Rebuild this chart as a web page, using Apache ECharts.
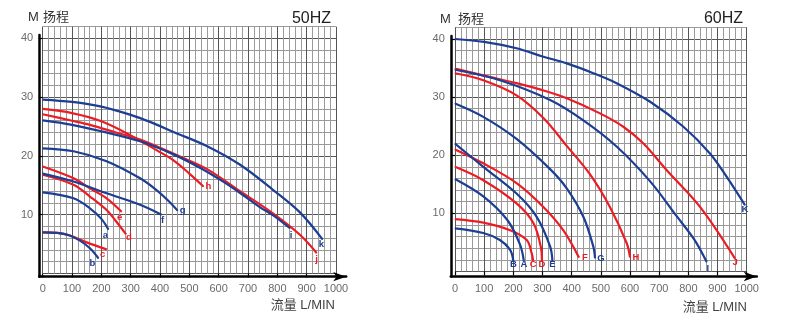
<!DOCTYPE html>
<html><head><meta charset="utf-8">
<script src="https://cdn.jsdelivr.net/npm/echarts@6/dist/echarts.min.js"></script>
<style>html,body{margin:0;padding:0;background:#fff}#c{width:790px;height:326px}</style>
</head><body><div id="c"></div>
<script>
// ---------- tick labels ----------
const flowTicks = [0,100,200,300,400,500,600,700,800,900,1000];
const headTicks = [10,20,30,40];

// ---------- 50HZ curves: [flow L/MIN, head M] ----------
const c50_a = [[0,13.8],[105,12.8],[161,11.1],[200,9.3],[224,7.5]];
const c50_b = [[0,7.0],[50,6.9],[90,6.5],[127,5.6],[161,4.3],[190,2.6]];
const c50_c = [[0,7.0],[50,6.9],[90,6.5],[150,5.3],[218,4.1]];
const c50_d = [[0,16.8],[105,15.1],[161,13.1],[218,10.8],[250,8.9],[284,6.7]];
const c50_e = [[0,18.2],[105,16.2],[161,14.5],[218,12.8],[269,10.5]];
const c50_f = [[0,17.0],[105,15.65],[218,13.65],[332,11.7],[405,10.0]];
const c50_g = [[0,21.3],[105,20.8],[218,19.1],[332,16.2],[388,14.2],[430,12.3],[460,10.7]];
const c50_h = [[0,28.0],[100,27.3],[200,25.9],[300,23.5],[388,21.0],[445,19.3],[500,17.0],[548,14.8]];
const c50_i = [[0,26.05],[100,25.3],[200,24.2],[332,22.5],[440,20.4],[536,18.0],[610,15.8],[673,13.7],[740,11.3],[786,9.9],[843,7.7]];
const c50_j = [[0,27.1],[100,26.0],[161,25.3],[250,24.0],[332,22.8],[468,19.9],[559,17.8],[673,14.0],[786,10.2],[877,6.6],[934,3.5]];
const c50_k = [[0,29.6],[100,29.2],[200,28.4],[300,27.0],[366,25.8],[450,24.0],[559,21.7],[673,18.5],[786,14.2],[877,10.4],[954,5.8]];

// ---------- 60HZ curves ----------
const c60_A = [[0,15.9],[97,12.9],[180,8.8],[223,4.6],[236,1.8]];
const c60_B = [[0,7.4],[97,6.6],[154,5.4],[189,3.7],[200,1.8]];
const c60_C = [[0,9.0],[97,8.4],[189,7.1],[246,5.4],[263,3.1],[268,1.8]];
const c60_D = [[0,18.0],[97,15.7],[211,11.7],[269,8.3],[295,4.0],[298,1.8]];
const c60_E = [[0,22.0],[97,18.0],[211,13.4],[280,9.4],[326,4.3],[334,1.8]];
const c60_F = [[0,21.0],[97,18.6],[211,15.2],[303,11.1],[371,7.1],[425,2.4]];
const c60_G = [[0,28.9],[97,26.6],[211,22.8],[326,17.6],[383,14.3],[440,9.4],[474,4.3],[480,2.3]];
const c60_H = [[0,34.1],[97,32.9],[211,30.3],[303,26.4],[383,21.6],[463,16.7],[531,11.1],[589,4.8],[600,2.4]];
const c60_I = [[0,34.7],[154,32.9],[326,29.5],[440,26.0],[554,21.5],[669,15.5],[760,9.5],[820,5.5],[863,1.6]];
const c60_J = [[0,34.9],[100,33.7],[211,32.4],[300,31.2],[383,29.8],[497,27.2],[577,24.9],[646,22.0],[726,17.4],[840,11.1],[960,2.2]];
const c60_K = [[0,40.0],[100,39.5],[211,38.4],[300,37.0],[383,35.8],[470,34.2],[554,32.4],[669,29.2],[783,24.9],[874,20.3],[931,16.3],[994,11.4]];

const BLUE = '#1c3e93', RED = '#ec1c24';
const FONT = '"Liberation Sans", "Noto Sans CJK SC", sans-serif';

// curve name, data, colour, label offset
const curves50 = [
  ['c', c50_c, RED, [-4, 5]], ['b', c50_b, BLUE, [-6, 5]],
  ['a', c50_a, BLUE, [-3, 6]], ['d', c50_d, RED, [3, 3]],
  ['e', c50_e, RED, [-2, 6]], ['f', c50_f, BLUE, [1, 6]],
  ['g', c50_g, BLUE, [5, 0]], ['h', c50_h, RED, [5, 0]],
  ['j', c50_j, RED, [0, 6]], ['i', c50_i, BLUE, [1, 7]],
  ['k', c50_k, BLUE, [-1, 5]]
];
const curves60 = [
  ['C', c60_C, RED, [0, 3]], ['B', c60_B, BLUE, [0, 3]],
  ['A', c60_A, BLUE, [0, 3]], ['D', c60_D, RED, [0, 3]],
  ['F', c60_F, RED, [6, 0]], ['E', c60_E, BLUE, [0, 3]],
  ['G', c60_G, BLUE, [6, 0]], ['H', c60_H, RED, [6, 0]],
  ['J', c60_J, RED, [0, 4]], ['I', c60_I, BLUE, [1, 6]],
  ['K', c60_K, BLUE, [0, 4]]
];

function series(list, axisIdx) {
  return list.map(([nm, pts, col, off]) => ({
    type: 'line', name: nm, xAxisIndex: axisIdx, yAxisIndex: axisIdx,
    smooth: 0.35, showSymbol: true, symbol: 'circle', symbolSize: 1,
    clip: false,
    lineStyle: { color: col, width: 2.2 }, itemStyle: { color: col },
    data: pts.map((p, k) => k === pts.length - 1 ? {
      value: p,
      label: { show: true, formatter: nm, position: 'inside', offset: off,
               color: col, fontSize: 9.5, fontWeight: 'bold', fontFamily: FONT }
    } : p)
  }));
}

const MINOR = '#9a9a9a', MAJOR = '#555555';
function mainX(gi, off) {
  return {
    type: 'value', gridIndex: gi, min: 0, max: 1000, interval: 100, offset: off,
    axisLine: { show: false },
    axisTick: { show: true, length: 4, lineStyle: { color: '#000', width: 1.2 } },
    axisLabel: { color: '#6a6a6a', fontSize: 11, margin: 7, fontFamily: FONT, formatter: v => String(v) },
    splitLine: { show: false }
  };
}
function mainY(gi, off) {
  return {
    type: 'value', gridIndex: gi, min: 0, max: 40, interval: 10, offset: off,
    axisLine: { show: false },
    axisTick: { show: true, length: 4, customValues: headTicks, lineStyle: { color: '#000', width: 1.2 } },
    axisLabel: { customValues: headTicks, color: '#6a6a6a', fontSize: 11, margin: 6, fontFamily: FONT },
    splitLine: { show: false }
  };
}
// grid-line-only axes (minor every 20 L/MIN and 2 M, darker every 100 / 10)
function lineX(gi) {
  return { type: 'value', gridIndex: gi, min: 0, max: 1000, interval: 20, position: 'top',
    axisLine: { show: false }, axisTick: { show: false }, axisLabel: { show: false },
    splitLine: { show: true, lineStyle: { color: [MAJOR, MINOR, MINOR, MINOR, MINOR], width: 1 } } };
}
function lineY(gi) {
  return { type: 'value', gridIndex: gi, min: 0, max: 42, interval: 2, position: 'right',
    axisLine: { show: false }, axisTick: { show: false }, axisLabel: { show: false },
    splitLine: { show: true, lineStyle: { color: [MAJOR, MINOR, MINOR, MINOR, MINOR], width: 1 } } };
}
function frameX(gi) {
  return { type: 'value', gridIndex: gi, min: 0, max: 1, z: 1,
    axisLine: { show: true, symbol: ['none', 'arrow'], symbolSize: [7, 13], lineStyle: { color: '#000', width: 2.5 } },
    axisTick: { show: false }, axisLabel: { show: false }, splitLine: { show: false } };
}
function frameY(gi) {
  return { type: 'value', gridIndex: gi, min: 0, max: 1, z: 1,
    axisLine: { show: true, lineStyle: { color: '#000', width: 2.5 } },
    axisTick: { show: false }, axisLabel: { show: false }, splitLine: { show: false } };
}

function txt(x, y, s, size, align, color) {
  return { type: 'text', x: x, y: y, silent: true, z: 10,
    style: { text: s, fill: color, font: size + 'px ' + FONT, align: align, verticalAlign: 'middle' } };
}

const option = {
  animation: false,
  backgroundColor: '#fff',
  grid: [
    { left: 42.7, top: 38.45, width: 293.3, height: 235.05 },   // 0 data / labels, left (0..40)
    { left: 455, top: 39.0, width: 291.7, height: 232.4 },      // 1 data / labels, right (0..40)
    { left: 39.2, top: 35, width: 307, height: 241.7 },         // 2 frame left
    { left: 450.8, top: 36, width: 306, height: 240.5 },        // 3 frame right
    { left: 42.7, top: 26.7, width: 293.3, height: 246.8 },     // 4 grid lines left (0..42)
    { left: 455, top: 27.4, width: 291.7, height: 244 }         // 5 grid lines right (0..42)
  ],
  xAxis: [mainX(0, 3.2), mainX(1, 4.8), frameX(2), frameX(3), lineX(4), lineX(5)],
  yAxis: [mainY(0, 3.5), mainY(1, 4.2), frameY(2), frameY(3), lineY(4), lineY(5)],
  graphic: [
    txt(28, 17, 'M', 13, 'left', '#333'),
    txt(43, 17, '扬程', 13, 'left', '#333'),
    txt(331, 18.5, '50HZ', 16, 'right', '#222'),
    txt(335, 305, '流量 L/MIN', 13, 'right', '#444'),
    txt(440, 19, 'M', 13, 'left', '#333'),
    txt(458, 19, '扬程', 13, 'left', '#333'),
    txt(743, 18.5, '60HZ', 16, 'right', '#222'),
    txt(747, 307, '流量 L/MIN', 13, 'right', '#444')
  ],
  series: series(curves50, 0).concat(series(curves60, 1))
};

const chart = echarts.init(document.getElementById('c'), null, { renderer: 'canvas' });
chart.setOption(option);
</script>
</body></html>
